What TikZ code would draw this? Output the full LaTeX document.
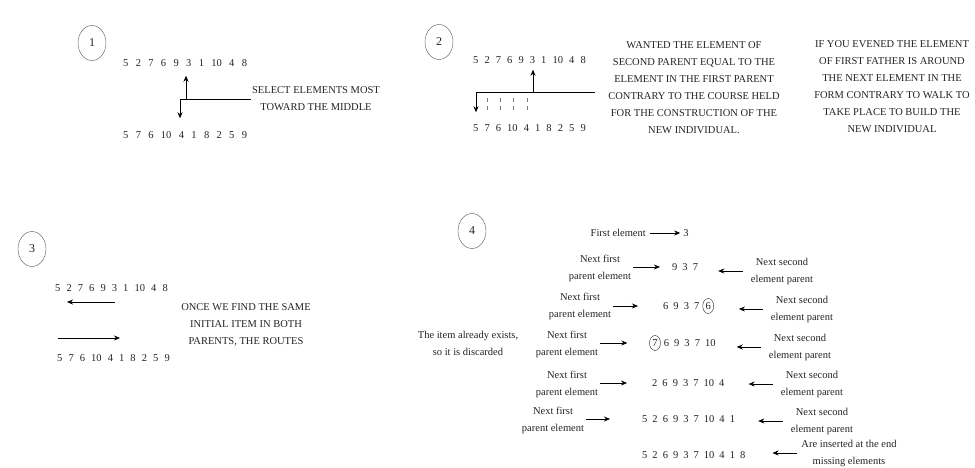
\documentclass[tikz,border=0pt]{standalone}
\usepackage{fontspec}
\setmainfont{Liberation Serif}
\usepackage{tikz}
\usetikzlibrary{shapes.geometric, arrows.meta, positioning, calc}
\definecolor{inkgray}{RGB}{35,35,35}
\tikzstyle{stepnum} = [ellipse, draw=inkgray!80, thin, minimum width=28pt, minimum height=35pt, inner sep=0pt, text=inkgray, font=\fontsize{12}{14}\selectfont]
\tikzstyle{note} = [align=center, inner sep=1pt, text=inkgray, font=\fontsize{10.5}{17}\selectfont]
\tikzstyle{seqwide} = [inner sep=1pt, text=inkgray, font={\fontsize{10.5}{12}\selectfont\spaceskip=0.7em\relax}]
\tikzstyle{seq} = [seqwide, font={\fontsize{10.5}{12}\selectfont\spaceskip=0.58em\relax}]
\tikzstyle{seqtight} = [seqwide, font={\fontsize{10.5}{12}\selectfont\spaceskip=0.48em\relax}]
\tikzstyle{circ} = [ellipse, draw=inkgray, thin, inner sep=0.5pt, minimum width=11pt, minimum height=15pt, text=inkgray, font=\fontsize{10.5}{12}\selectfont]
\tikzstyle{arrow} = [semithick,-{Stealth[length=6pt,width=5pt]}]

\begin{document}
\begin{tikzpicture}[x=1pt, y=-1pt]
\useasboundingbox (0,0) rectangle (975,468);

% ===== STEP 1: MIDDLE ELEMENTS =====
\node (num1) [stepnum] at (92,43) {1};
\node (p1top) [seqwide, anchor=west] at (122,63) {5 2 7 6 9 3 1 10 4 8};
\node (p1bot) [seqwide, anchor=west] at (122,135) {5 7 6 10 4 1 8 2 5 9};
\node (select) [note] at (316,99) {SELECT ELEMENTS MOST\\TOWARD THE MIDDLE};
\coordinate (up1) at (186,99);
\coordinate (down1) at (180,99);
\draw [semithick] (select.west) -- (down1);
\draw [arrow, shorten >=8pt] (up1) -- (up1 |- p1top.south);
\draw [arrow, shorten >=12pt] (down1) -- (down1 |- p1bot.north);

% ===== STEP 2: OPPOSITE DIRECTIONS =====
\node (num2) [stepnum] at (439,42) {2};
\node (p2top) [seq, anchor=west] at (472,60) {5 2 7 6 9 3 1 10 4 8};
\node (p2bot) [seq, anchor=west] at (472,128) {5 7 6 10 4 1 8 2 5 9};
\node (wanted) [note] at (694,88) {WANTED THE ELEMENT OF\\SECOND PARENT EQUAL TO THE\\ELEMENT IN THE FIRST PARENT\\CONTRARY TO THE COURSE HELD\\FOR THE CONSTRUCTION OF THE\\NEW INDIVIDUAL.};
\node (evened) [note] at (892,87) {IF YOU EVENED THE ELEMENT\\OF FIRST FATHER IS AROUND\\THE NEXT ELEMENT IN THE\\FORM CONTRARY TO WALK TO\\TAKE PLACE TO BUILD THE\\NEW INDIVIDUAL};
\coordinate (fork2) at (476,92);
\coordinate (up2) at (533,92);
\draw [semithick, shorten <=12pt] (wanted.west |- fork2) -- (fork2);
\draw [arrow, shorten >=5pt] (up2) -- (up2 |- p2top.south);
\draw [arrow, shorten >=11pt] (fork2) -- (fork2 |- p2bot.north);
% small marks under the line
\foreach \x in {487,500,513,527}
  \foreach \y in {100,108}
    \draw [inkgray!60, thin] (\x,\y-2) -- (\x,\y+2);

% ===== STEP 3: SAME ITEM FOUND =====
\node (num3) [stepnum] at (32,249) {3};
\node (p3top) [seq, anchor=west] at (54,288) {5 2 7 6 9 3 1 10 4 8};
\node (p3bot) [seq, anchor=west] at (56,358) {5 7 6 10 4 1 8 2 5 9};
\node (once) [note] at (246,325) {ONCE WE FIND THE SAME\\INITIAL ITEM IN BOTH\\PARENTS, THE ROUTES};
\coordinate (back3) at (115,302);
\coordinate (fwd3) at (120,338);
\draw [arrow, shorten >=13pt] (back3) -- (back3 -| p3top.west);
\draw [arrow, shorten <=2pt] (fwd3 -| p3bot.west) -- (fwd3);

% ===== STEP 4: BUILDING THE CHILD =====
\node (num4) [stepnum] at (472,231) {4};
\node (first) [note, anchor=east] at (647,233) {First element};
\node (s1) [seqtight] at (686,233) {3};

\node (s2) [seqtight, anchor=west] at (671,267) {9 3 7};
\node (s3) [seqtight, anchor=west] at (662,306) {6 9 3 7};
\node (c6) [circ, right=2pt of s3] {6};
\node (c7) [circ] at (655,343) {7};
\node (s4) [seqtight, right=2pt of c7] {6 9 3 7 10};
\node (s5) [seqtight, anchor=west] at (651,383) {2 6 9 3 7 10 4};
\node (s6) [seqtight, anchor=west] at (641,419) {5 2 6 9 3 7 10 4 1};
\node (s7) [seqtight, anchor=west] at (641,455) {5 2 6 9 3 7 10 4 1 8};

% first parent side
\node (l2) [note] at (600,268) {Next first\\parent element};
\node (l3) [note] at (580,306) {Next first\\parent element};
\node (l4) [note] at (567,344) {Next first\\parent element};
\node (l5) [note] at (567,384) {Next first\\parent element};
\node (l6) [note] at (553,420) {Next first\\parent element};
\node (gone) [note] at (468,343) {The item already exists,\\so it is discarded};

% second parent side
\node (r2) [note] at (782,271) {Next second\\element parent};
\node (r3) [note] at (802,309) {Next second\\element parent};
\node (r4) [note] at (800,347) {Next second\\element parent};
\node (r5) [note] at (812,384) {Next second\\element parent};
\node (r6) [note] at (822,421) {Next second\\element parent};
\node (r7) [note] at (849,453) {Are inserted at the end\\missing elements};

% ===== ARROWS =====
\draw [arrow, shorten <=3pt, shorten >=2pt] (first) -- (s1);
\draw [arrow, shorten <=1pt, shorten >=11pt] (l2.east |- s2) -- (s2);
\draw [arrow, shorten <=1pt, shorten >=24pt] (l3.east |- s3) -- (s3);
\draw [arrow, shorten <=1pt, shorten >=22pt] (l4.east |- c7) -- (c7);
\draw [arrow, shorten <=1pt, shorten >=24pt] (l5.east |- s5) -- (s5);
\draw [arrow, shorten <=1pt, shorten >=31pt] (l6.east |- s6) -- (s6);

\draw [arrow, shorten <=7pt, shorten >=19pt] (r2.west) -- (r2.west -| s2.east);
\draw [arrow, shorten <=7pt, shorten >=25pt] (r3.west) -- (r3.west -| c6.east);
\draw [arrow, shorten <=7pt, shorten >=20pt] (r4.west) -- (r4.west -| s4.east);
\draw [arrow, shorten <=7pt, shorten >=23pt] (r5.west) -- (r5.west -| s5.east);
\draw [arrow, shorten <=7pt, shorten >=22pt] (r6.west) -- (r6.west -| s6.east);
\draw [arrow, shorten <=3pt, shorten >=26pt] (r7.west) -- (r7.west -| s7.east);

\end{tikzpicture}
\end{document}
